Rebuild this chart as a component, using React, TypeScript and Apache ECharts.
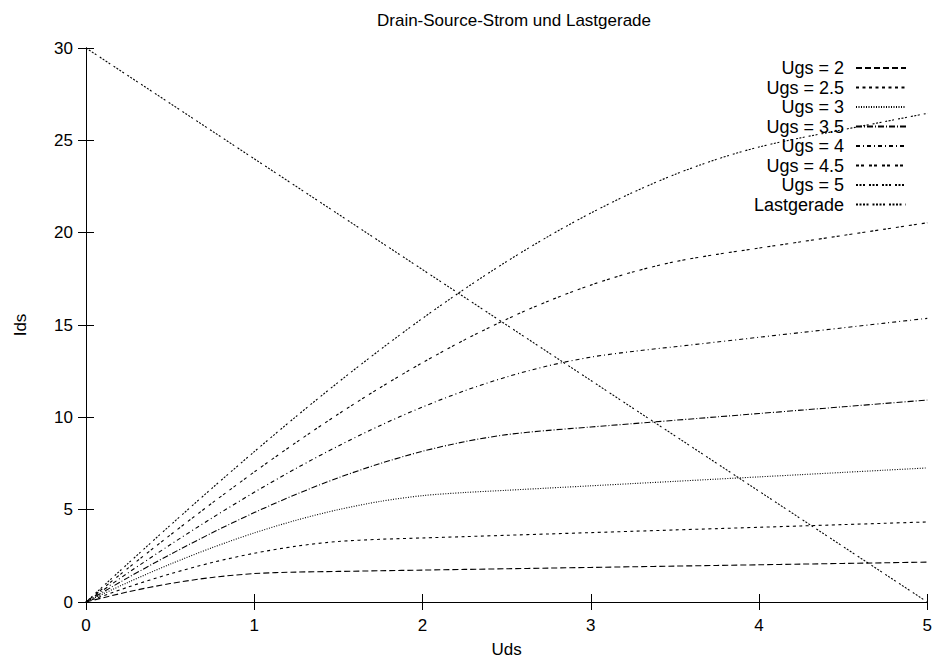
import React, { useEffect, useRef } from "react";
import * as echarts from "echarts";

const uds = [0, 0.25, 0.5, 0.75, 1, 1.25, 1.5, 1.75, 2, 2.25, 2.5, 2.75, 3, 3.25, 3.5, 3.75, 4, 4.25, 4.5, 4.75, 5];

const ugs2 = [0, 0.551, 0.998, 1.33, 1.54, 1.62, 1.656, 1.692, 1.728, 1.764, 1.8, 1.836, 1.872, 1.908, 1.944, 1.98, 2.016, 2.052, 2.088, 2.124, 2.16];
const ugs25 = [0, 0.807, 1.523, 2.137, 2.64, 3.023, 3.278, 3.396, 3.468, 3.54, 3.613, 3.685, 3.757, 3.829, 3.902, 3.974, 4.046, 4.118, 4.191, 4.263, 4.335];
const ugs3 = [0, 1.063, 2.048, 2.943, 3.74, 4.43, 5.003, 5.449, 5.76, 5.929, 6.05, 6.171, 6.292, 6.413, 6.534, 6.655, 6.776, 6.897, 7.018, 7.139, 7.26];
const ugs35 = [0, 1.32, 2.573, 3.749, 4.84, 5.836, 6.728, 7.505, 8.16, 8.682, 9.063, 9.295, 9.477, 9.659, 9.842, 10.024, 10.206, 10.388, 10.571, 10.753, 10.935];
const ugs4 = [0, 1.576, 3.098, 4.555, 5.94, 7.242, 8.453, 9.562, 10.56, 11.438, 12.188, 12.798, 13.26, 13.568, 13.824, 14.08, 14.336, 14.592, 14.848, 15.104, 15.36];
const ugs45 = [0, 1.832, 3.623, 5.362, 7.04, 8.648, 10.178, 11.618, 12.96, 14.195, 15.313, 16.304, 17.16, 17.871, 18.428, 18.824, 19.166, 19.508, 19.851, 20.193, 20.535];
const ugs5 = [0, 2.088, 4.148, 6.168, 8.14, 10.055, 11.903, 13.674, 15.36, 16.951, 18.438, 19.81, 21.06, 22.177, 23.153, 23.977, 24.64, 25.137, 25.578, 26.019, 26.46];

const lastX = [0, 5];
const lastY = [30, 0];

const seriesNames = ["Ugs = 2", "Ugs = 2.5", "Ugs = 3", "Ugs = 3.5", "Ugs = 4", "Ugs = 4.5", "Ugs = 5", "Lastgerade"];
const xTicks = [0, 1, 2, 3, 4, 5];
const yTicks = [0, 5, 10, 15, 20, 25, 30];

const FONT = "'Liberation Sans', Arial, Helvetica, sans-serif";
const FS = 17;
const LFS = 18;

export default function App() {
  const ref = useRef<HTMLDivElement>(null);
  useEffect(() => {
    if (!ref.current) return;
    const chart = echarts.init(ref.current, undefined, { renderer: "svg" });
    const curves = [ugs2, ugs25, ugs3, ugs35, ugs4, ugs45, ugs5];
    const dashes: number[][] = [
      [6, 3],
      [3, 3.5],
      [1, 1.5],
      [6, 2, 1, 2],
      [4, 3, 1, 3],
      [3, 2, 3, 5],
      [2, 1.5, 2, 1.5, 2, 4],
      [2, 1.5, 2, 1.5, 2, 1.5, 2, 4],
    ];
    const series: any[] = curves.map((arr, i) => ({
      name: seriesNames[i],
      type: "line",
      data: uds.map((x, j) => [x, arr[j]]),
      symbol: "none",
      smooth: 0.3,
      lineStyle: { color: "#000", width: 1.1, type: dashes[i] },
      itemStyle: { color: "#000" },
      xAxisIndex: 0,
      yAxisIndex: 0,
    }));
    series.push({
      name: seriesNames[7],
      type: "line",
      data: lastX.map((x, j) => [x, lastY[j]]),
      symbol: "none",
      lineStyle: { color: "#000", width: 1.1, type: dashes[7] },
      itemStyle: { color: "#000" },
      xAxisIndex: 0,
      yAxisIndex: 0,
    });
    const axisLine = { show: true, lineStyle: { color: "#000", width: 1 } };
    const axisTick = { show: true, inside: true, length: 8, lineStyle: { color: "#000", width: 1 } };
    chart.setOption({
      animation: false,
      backgroundColor: "#fff",
      title: {
        text: "Drain-Source-Strom und Lastgerade",
        left: 509,
        textAlign: "center",
        top: 7,
        textStyle: { fontFamily: FONT, fontSize: FS, fontWeight: "normal", color: "#000" },
      },
      legend: {
        orient: "vertical",
        right: 23,
        top: 54,
        align: "right",
        itemWidth: 50,
        itemHeight: 14,
        itemGap: 1.5,
        data: seriesNames,
        selectedMode: false,
        itemStyle: { opacity: 0 },
        formatter: "{a|{name}}",
        textStyle: {
          fontFamily: FONT,
          fontSize: LFS,
          color: "#000",
          rich: { a: { width: 105, align: "right", lineHeight: 17, fontFamily: FONT, fontSize: LFS, color: "#000", padding: [0, 7, 0, 0] } },
        },
      },
      grid: { left: 86, top: 48, width: 842, height: 560, containLabel: false },
      xAxis: [
        {
          type: "value",
          min: 0,
          max: 5,
          interval: 1,
          position: "bottom",
          name: "Uds",
          nameLocation: "middle",
          nameGap: 39,
          nameTextStyle: { fontFamily: FONT, fontSize: FS, color: "#000" },
          axisLine,
          axisTick,
          splitLine: { show: false },
          axisLabel: {
            fontFamily: FONT,
            fontSize: FS,
            color: "#000",
            margin: 15,
            formatter: (v: number) => (xTicks.includes(v) ? String(v) : ""),
          },
        },
        {
          type: "value",
          min: 0,
          max: 5,
          interval: 1,
          position: "top",
          axisLine,
          axisTick,
          splitLine: { show: false },
          axisLabel: { show: false },
        },
      ],
      yAxis: [
        {
          type: "value",
          min: 0,
          max: 30,
          interval: 5,
          position: "left",
          name: "Ids",
          nameLocation: "middle",
          nameRotate: 90,
          nameGap: 57,
          nameTextStyle: { fontFamily: FONT, fontSize: FS, color: "#000" },
          axisLine,
          axisTick,
          splitLine: { show: false },
          axisLabel: {
            fontFamily: FONT,
            fontSize: FS,
            color: "#000",
            margin: 13,
            formatter: (v: number) => (yTicks.includes(v) ? String(v) : ""),
          },
        },
        {
          type: "value",
          min: 0,
          max: 30,
          interval: 5,
          position: "right",
          axisLine,
          axisTick,
          splitLine: { show: false },
          axisLabel: { show: false },
        },
      ],
      series,
    });
    return () => chart.dispose();
  }, []);
  return <div ref={ref} style={{ position: "absolute", left: 0, top: 0, width: 935, height: 663 }} />;
}
